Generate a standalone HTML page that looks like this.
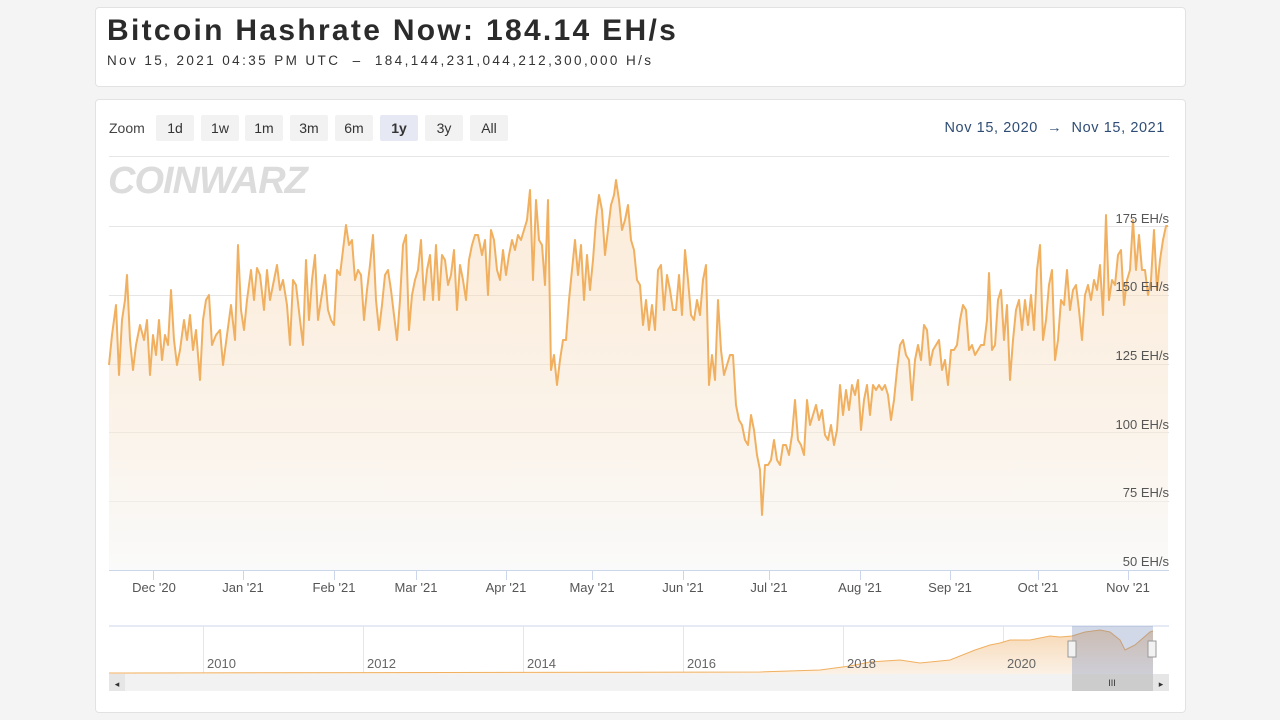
<!DOCTYPE html>
<html><head><meta charset="utf-8"><style>
html,body{margin:0;padding:0;width:1280px;height:720px;background:#f4f4f4;overflow:hidden;font-family:"Liberation Sans",sans-serif}
.card{position:absolute;background:#fff;border:1px solid #e2e2e2;border-radius:4px}
</style></head><body>
<div class="card" style="left:95px;top:7px;width:1089px;height:78px"></div>
<div style="position:absolute;left:107px;top:14px;font-size:30px;font-weight:bold;color:#2b2b2b;letter-spacing:2.3px">Bitcoin Hashrate Now: 184.14 EH/s</div>
<div style="position:absolute;left:107px;top:53px;font-size:13.5px;color:#333;letter-spacing:2.4px">Nov 15, 2021 04:35 PM UTC &nbsp;–&nbsp; 184,144,231,044,212,300,000 H/s</div>
<div class="card" style="left:95px;top:99px;width:1089px;height:612px"></div>
<svg width="1280" height="720" style="position:absolute;left:0;top:0" font-family="Liberation Sans, sans-serif">
<defs><linearGradient id="g" x1="0" y1="0" x2="0" y2="1"><stop offset="0" stop-color="#f7cfa0" stop-opacity="0.38"/><stop offset="1" stop-color="#f7f7f7" stop-opacity="0.6"/></linearGradient>
<linearGradient id="g2" x1="0" y1="0" x2="0" y2="1"><stop offset="0" stop-color="#f7d8b5"/><stop offset="1" stop-color="#fbf1e6"/></linearGradient></defs>
<text x="109" y="133" font-size="14" fill="#444">Zoom</text>
<g font-size="14" fill="#333" text-anchor="middle">
<rect x="156" y="115" width="38" height="26" rx="2" fill="#f2f2f2"/><text x="175" y="133">1d</text>
<rect x="201" y="115" width="38" height="26" rx="2" fill="#f2f2f2"/><text x="220" y="133">1w</text>
<rect x="245" y="115" width="38" height="26" rx="2" fill="#f2f2f2"/><text x="264" y="133">1m</text>
<rect x="290" y="115" width="38" height="26" rx="2" fill="#f2f2f2"/><text x="309" y="133">3m</text>
<rect x="335" y="115" width="38" height="26" rx="2" fill="#f2f2f2"/><text x="354" y="133">6m</text>
<rect x="380" y="115" width="38" height="26" rx="2" fill="#e6e9f4"/><text x="399" y="133" font-weight="bold">1y</text>
<rect x="425" y="115" width="38" height="26" rx="2" fill="#f2f2f2"/><text x="444" y="133">3y</text>
<rect x="470" y="115" width="38" height="26" rx="2" fill="#f2f2f2"/><text x="489" y="133">All</text>
</g>
<text x="1165" y="132" font-size="14.5" fill="#2f4d74" text-anchor="end" letter-spacing="0.6">Nov 15, 2020 &#160;→ &#160;Nov 15, 2021</text>
<line x1="109" y1="156.5" x2="1169" y2="156.5" stroke="#e6e6e6"/>
<text x="108" y="193" font-size="38" font-weight="bold" fill="#dcdcdc" letter-spacing="-1" font-style="italic">COINWARZ</text>
<g stroke="#e6e6e6"><line x1="109" y1="226.5" x2="1169" y2="226.5"/><line x1="109" y1="295.5" x2="1169" y2="295.5"/><line x1="109" y1="364.5" x2="1169" y2="364.5"/><line x1="109" y1="432.5" x2="1169" y2="432.5"/><line x1="109" y1="501.5" x2="1169" y2="501.5"/></g>
<polygon fill="url(#g)" points="109,570 109,365 112,335 116,305 119,375 122,320 125,300 127,275 130,340 133,370 136,345 140,325 144,340 147,320 150,375 153,335 156,355 159,320 162,360 165,335 168,345 171,290 174,340 177,365 180,350 184,320 187,340 190,315 193,350 196,330 200,380 203,320 206,300 209,295 212,345 216,335 220,330 223,365 227,335 231,305 235,340 238,245 241,310 244,330 247,300 251,270 254,300 257,268 260,275 264,310 267,270 270,300 273,285 277,265 280,290 283,280 287,305 290,345 293,280 296,285 300,320 303,345 306,260 309,320 312,280 315,255 318,320 321,300 325,275 328,310 331,320 334,325 337,270 340,275 343,250 346,225 349,245 352,240 355,280 358,270 361,275 364,320 367,290 370,265 373,235 376,300 379,330 382,305 385,275 388,270 391,290 394,315 397,340 400,300 403,245 406,235 409,330 412,295 415,280 418,270 421,240 424,300 427,270 430,255 433,300 436,245 439,300 442,255 445,260 448,285 451,275 454,250 457,310 460,265 463,280 466,300 469,260 472,245 475,235 478,235 482,255 485,240 488,295 491,230 494,240 497,270 500,280 503,250 506,275 509,255 512,240 515,250 518,235 521,240 524,230 527,220 530,190 533,280 536,200 539,240 542,245 545,285 548,200 551,370 554,355 557,385 560,360 563,340 566,340 569,300 572,270 575,240 578,275 581,245 584,300 587,255 590,290 593,260 596,220 599,195 602,210 605,255 608,230 611,205 614,195 616,180 619,200 622,230 625,220 628,205 631,240 634,250 637,280 640,285 643,325 646,300 649,330 652,305 655,330 658,270 661,265 664,310 667,275 670,290 673,310 676,310 679,275 682,315 685,250 688,280 691,315 694,320 697,300 700,315 703,280 706,265 709,385 712,355 715,380 718,300 721,350 724,375 727,365 730,355 733,355 736,405 739,420 742,425 745,440 748,445 751,415 754,430 757,455 760,470 762,515 765,465 768,465 771,460 774,440 777,460 780,465 783,445 786,445 789,455 792,435 795,400 798,440 801,445 804,455 807,400 810,425 813,415 816,405 819,420 822,410 825,435 828,440 831,425 834,445 837,430 840,385 843,415 846,390 849,410 852,385 855,395 858,380 861,430 864,400 867,385 870,415 873,385 876,390 879,385 882,390 885,385 888,395 891,420 894,400 897,370 900,345 903,340 906,355 909,360 912,400 915,360 918,345 921,360 924,325 927,330 930,365 933,350 936,345 939,340 942,370 945,360 948,385 951,350 954,350 957,345 960,320 963,305 966,310 969,350 972,345 975,355 978,350 981,345 984,345 987,320 989,273 992,350 995,345 998,300 1001,290 1004,340 1007,305 1010,380 1013,340 1016,310 1019,300 1022,330 1025,300 1028,325 1031,295 1034,330 1037,270 1040,245 1043,340 1046,320 1049,285 1052,270 1055,360 1058,340 1061,300 1064,305 1067,270 1070,310 1073,290 1076,285 1079,310 1082,340 1085,295 1088,285 1091,300 1094,280 1097,290 1100,265 1103,315 1106,215 1109,300 1112,280 1115,285 1118,255 1121,250 1124,305 1127,280 1130,270 1133,220 1136,270 1139,235 1142,270 1145,270 1148,295 1151,280 1154,230 1157,290 1160,260 1163,240 1166,226 1168,226 1168,570"/>
<polyline fill="none" stroke="#f0b060" stroke-width="2" stroke-linejoin="round" points="109,365 112,335 116,305 119,375 122,320 125,300 127,275 130,340 133,370 136,345 140,325 144,340 147,320 150,375 153,335 156,355 159,320 162,360 165,335 168,345 171,290 174,340 177,365 180,350 184,320 187,340 190,315 193,350 196,330 200,380 203,320 206,300 209,295 212,345 216,335 220,330 223,365 227,335 231,305 235,340 238,245 241,310 244,330 247,300 251,270 254,300 257,268 260,275 264,310 267,270 270,300 273,285 277,265 280,290 283,280 287,305 290,345 293,280 296,285 300,320 303,345 306,260 309,320 312,280 315,255 318,320 321,300 325,275 328,310 331,320 334,325 337,270 340,275 343,250 346,225 349,245 352,240 355,280 358,270 361,275 364,320 367,290 370,265 373,235 376,300 379,330 382,305 385,275 388,270 391,290 394,315 397,340 400,300 403,245 406,235 409,330 412,295 415,280 418,270 421,240 424,300 427,270 430,255 433,300 436,245 439,300 442,255 445,260 448,285 451,275 454,250 457,310 460,265 463,280 466,300 469,260 472,245 475,235 478,235 482,255 485,240 488,295 491,230 494,240 497,270 500,280 503,250 506,275 509,255 512,240 515,250 518,235 521,240 524,230 527,220 530,190 533,280 536,200 539,240 542,245 545,285 548,200 551,370 554,355 557,385 560,360 563,340 566,340 569,300 572,270 575,240 578,275 581,245 584,300 587,255 590,290 593,260 596,220 599,195 602,210 605,255 608,230 611,205 614,195 616,180 619,200 622,230 625,220 628,205 631,240 634,250 637,280 640,285 643,325 646,300 649,330 652,305 655,330 658,270 661,265 664,310 667,275 670,290 673,310 676,310 679,275 682,315 685,250 688,280 691,315 694,320 697,300 700,315 703,280 706,265 709,385 712,355 715,380 718,300 721,350 724,375 727,365 730,355 733,355 736,405 739,420 742,425 745,440 748,445 751,415 754,430 757,455 760,470 762,515 765,465 768,465 771,460 774,440 777,460 780,465 783,445 786,445 789,455 792,435 795,400 798,440 801,445 804,455 807,400 810,425 813,415 816,405 819,420 822,410 825,435 828,440 831,425 834,445 837,430 840,385 843,415 846,390 849,410 852,385 855,395 858,380 861,430 864,400 867,385 870,415 873,385 876,390 879,385 882,390 885,385 888,395 891,420 894,400 897,370 900,345 903,340 906,355 909,360 912,400 915,360 918,345 921,360 924,325 927,330 930,365 933,350 936,345 939,340 942,370 945,360 948,385 951,350 954,350 957,345 960,320 963,305 966,310 969,350 972,345 975,355 978,350 981,345 984,345 987,320 989,273 992,350 995,345 998,300 1001,290 1004,340 1007,305 1010,380 1013,340 1016,310 1019,300 1022,330 1025,300 1028,325 1031,295 1034,330 1037,270 1040,245 1043,340 1046,320 1049,285 1052,270 1055,360 1058,340 1061,300 1064,305 1067,270 1070,310 1073,290 1076,285 1079,310 1082,340 1085,295 1088,285 1091,300 1094,280 1097,290 1100,265 1103,315 1106,215 1109,300 1112,280 1115,285 1118,255 1121,250 1124,305 1127,280 1130,270 1133,220 1136,270 1139,235 1142,270 1145,270 1148,295 1151,280 1154,230 1157,290 1160,260 1163,240 1166,226 1168,226"/>
<g font-size="13" fill="#555" text-anchor="end">
<text x="1169" y="223">175 EH/s</text><text x="1169" y="291">150 EH/s</text><text x="1169" y="360">125 EH/s</text><text x="1169" y="429">100 EH/s</text><text x="1169" y="497">75 EH/s</text><text x="1169" y="566">50 EH/s</text></g>
<line x1="109" y1="570.5" x2="1169" y2="570.5" stroke="#ccd6eb"/>
<g stroke="#ccd6eb"><line x1="153.5" y1="570" x2="153.5" y2="580"/><line x1="243.5" y1="570" x2="243.5" y2="580"/><line x1="334.5" y1="570" x2="334.5" y2="580"/><line x1="416.5" y1="570" x2="416.5" y2="580"/><line x1="506.5" y1="570" x2="506.5" y2="580"/><line x1="592.5" y1="570" x2="592.5" y2="580"/><line x1="683.5" y1="570" x2="683.5" y2="580"/><line x1="769.5" y1="570" x2="769.5" y2="580"/><line x1="860.5" y1="570" x2="860.5" y2="580"/><line x1="950.5" y1="570" x2="950.5" y2="580"/><line x1="1038.5" y1="570" x2="1038.5" y2="580"/><line x1="1128.5" y1="570" x2="1128.5" y2="580"/></g>
<g font-size="13" fill="#555" text-anchor="middle">
<text x="154" y="592">Dec '20</text><text x="243" y="592">Jan '21</text><text x="334" y="592">Feb '21</text><text x="416" y="592">Mar '21</text><text x="506" y="592">Apr '21</text><text x="592" y="592">May '21</text><text x="683" y="592">Jun '21</text><text x="769" y="592">Jul '21</text><text x="860" y="592">Aug '21</text><text x="950" y="592">Sep '21</text><text x="1038" y="592">Oct '21</text><text x="1128" y="592">Nov '21</text></g>
<line x1="109" y1="626" x2="1169" y2="626" stroke="#ccd6eb"/>
<g stroke="#e6e6e6"><line x1="203.5" y1="626" x2="203.5" y2="674"/><line x1="363.5" y1="626" x2="363.5" y2="674"/><line x1="523.5" y1="626" x2="523.5" y2="674"/><line x1="683.5" y1="626" x2="683.5" y2="674"/><line x1="843.5" y1="626" x2="843.5" y2="674"/><line x1="1003.5" y1="626" x2="1003.5" y2="674"/></g>
<polygon fill="url(#g2)" points="109,674 109,673 760,672 820,670 850,666 870,662 900,660 920,663 950,660 975,650 990,645 1000,643 1010,640 1030,640 1050,636 1060,637 1072,636 1085,632 1100,630 1110,632 1120,640 1125,650 1135,645 1150,632 1153,631 1153,674"/>
<polyline fill="none" stroke="#f0b060" stroke-width="1" points="109,673 760,672 820,670 850,666 870,662 900,660 920,663 950,660 975,650 990,645 1000,643 1010,640 1030,640 1050,636 1060,637 1072,636 1085,632 1100,630 1110,632 1120,640 1125,650 1135,645 1150,632 1153,631"/>
<rect x="1072" y="626" width="81" height="48" fill="#667fb3" fill-opacity="0.3"/>
<g font-size="13" fill="#666"><text x="207" y="668">2010</text><text x="367" y="668">2012</text><text x="527" y="668">2014</text><text x="687" y="668">2016</text><text x="847" y="668">2018</text><text x="1007" y="668">2020</text></g>
<rect x="1068" y="641" width="8" height="16" fill="#f2f2f2" stroke="#999"/><rect x="1148" y="641" width="8" height="16" fill="#f2f2f2" stroke="#999"/>
<rect x="109" y="674" width="1060" height="17" fill="#f2f2f2"/>
<rect x="1072" y="674" width="81" height="17" fill="#ccc"/>
<rect x="109" y="674" width="16" height="17" fill="#e6e6e6"/><rect x="1153" y="674" width="16" height="17" fill="#e6e6e6"/>
<text x="117" y="687" font-size="9" fill="#333" text-anchor="middle">◂</text><text x="1161" y="687" font-size="9" fill="#333" text-anchor="middle">▸</text>
<text x="1112" y="686" font-size="9" fill="#333" text-anchor="middle">III</text>
</svg>
</body></html>
